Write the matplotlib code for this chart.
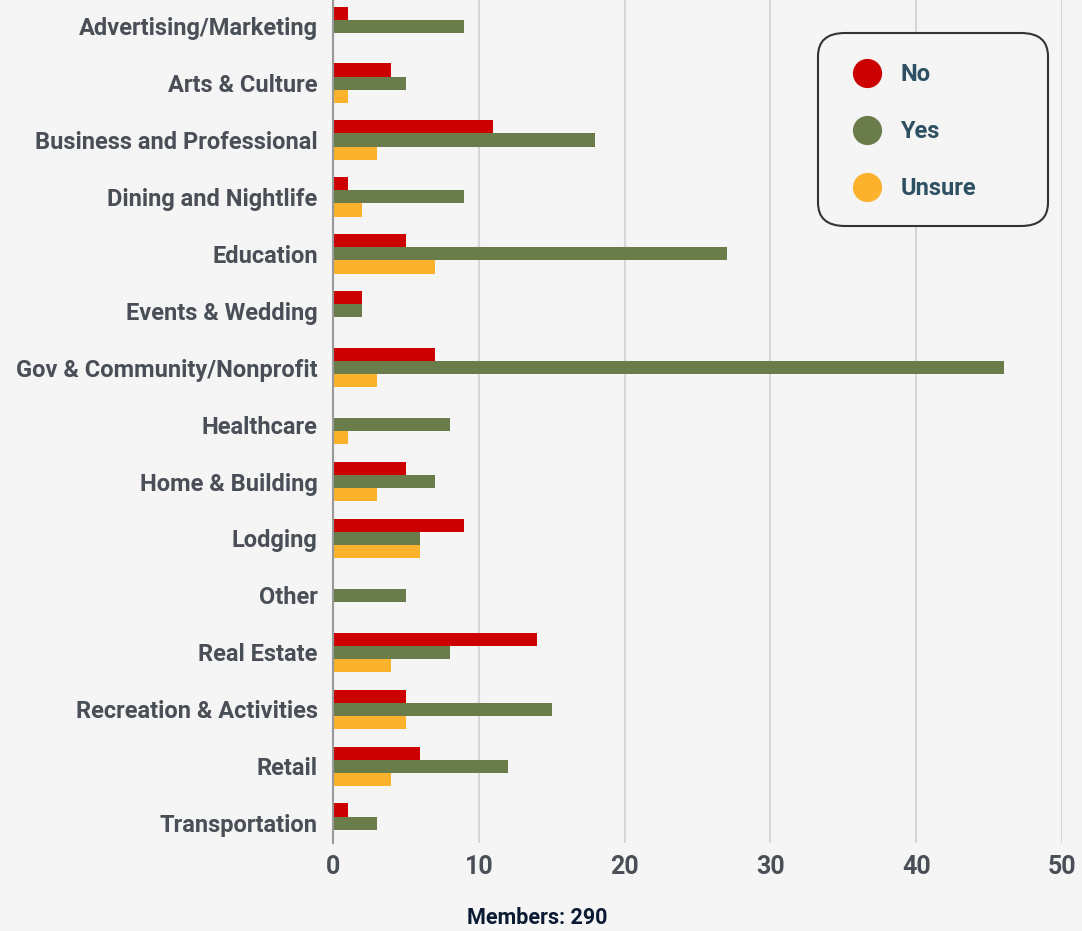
import matplotlib.pyplot as plt
from matplotlib.lines import Line2D
from matplotlib.patches import FancyBboxPatch
import numpy as np

categories = ["Advertising/Marketing", "Arts & Culture", "Business and Professional",
              "Dining and Nightlife", "Education", "Events & Wedding",
              "Gov & Community/Nonprofit", "Healthcare", "Home & Building", "Lodging",
              "Other", "Real Estate", "Recreation & Activities", "Retail", "Transportation"]
no_vals = [1, 4, 11, 1, 5, 2, 7, 0, 5, 9, 0, 14, 5, 6, 1]
yes_vals = [9, 5, 18, 9, 27, 2, 46, 8, 7, 6, 5, 8, 15, 12, 3]
unsure_vals = [0, 1, 3, 2, 7, 0, 3, 1, 3, 6, 0, 4, 5, 4, 0]
x_ticks = [0, 10, 20, 30, 40, 50]
footer = "Members: 290"

RED = "#cc0000"
GREEN = "#6b7c4b"
ORANGE = "#fcb22c"
BG = "#f5f5f5"
W, H = 1082, 931

plt.rcParams['font.family'] = ['Roboto', 'DejaVu Sans']
plt.rcParams['font.weight'] = 'bold'

fig = plt.figure(figsize=(10.82, 9.31), dpi=100, facecolor=BG)
ax = fig.add_axes([333 / W, 1 - 843 / H, (1062 - 333) / W, 843 / H])
ax.set_facecolor(BG)

y = np.arange(len(categories))
h = 0.23
ax.barh(y - h, no_vals, height=h, color=RED, zorder=3)
ax.barh(y, yes_vals, height=h, color=GREEN, zorder=3)
ax.barh(y + h, unsure_vals, height=h, color=ORANGE, zorder=3)

ax.set_xlim(0, 50)
ax.set_ylim(14.35, -0.46)
ax.set_xticks(x_ticks)
ax.set_xticklabels([str(t) for t in x_ticks], fontsize=18, color="#4a4f57")
ax.set_yticks(y)
ax.set_yticklabels(categories, fontsize=17, color="#4a4f57")
ax.tick_params(axis='both', length=0)
ax.tick_params(axis='x', pad=9)
ax.tick_params(axis='y', pad=11)
ax.grid(axis='x', color="#d6d6d6", linewidth=1.5, zorder=0)
for s in ["top", "right", "bottom"]:
    ax.spines[s].set_visible(False)
ax.spines["left"].set_color("#999999")
ax.spines["left"].set_linewidth(1.5)
ax.spines["left"].set_zorder(4)

# legend frame drawn by hand, it is wider than the entries
box = FancyBboxPatch((818 / W, 1 - 226 / H), (1048 - 818) / W, (226 - 33) / H,
                     boxstyle="round,pad=0,rounding_size=0.025",
                     transform=fig.transFigure, facecolor=BG, edgecolor="#333333",
                     linewidth=1.5, zorder=5)
fig.patches.append(box)

handles = [Line2D([], [], marker='o', linestyle='none', markersize=20, color=c, label=l)
           for c, l in [(RED, "No"), (GREEN, "Yes"), (ORANGE, "Unsure")]]
leg = fig.legend(handles=handles, loc='upper left',
                 bbox_to_anchor=(849 / W, 1 - 63 / H),
                 fontsize=17, labelcolor="#2d5063", frameon=False,
                 borderpad=0, labelspacing=1.45, handletextpad=0.68,
                 borderaxespad=0, handlelength=1.5)
for t in leg.get_texts():
    t.set_fontweight('bold')
leg.set_zorder(6)

fig.text(537 / W, 1 - 918 / H, footer, ha='center', va='center',
         fontsize=15.5, color="#0a1a33", fontweight='bold')

fig.savefig("out.png", dpi=100, facecolor=BG)
